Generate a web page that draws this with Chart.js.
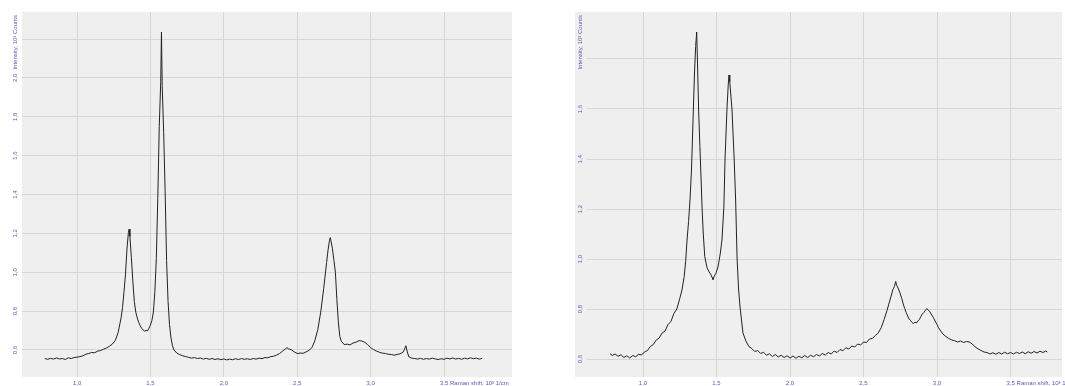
<!DOCTYPE html>
<html>
<head>
<meta charset="utf-8">
<script src="https://cdn.jsdelivr.net/npm/chart.js@4.4.1/dist/chart.umd.min.js"></script>
<style>
  html, body { margin: 0; padding: 0; background: #fff; }
  body { width: 1065px; height: 386px; position: relative; overflow: hidden; }
  .box { position: absolute; top: 0; height: 386px; }
  #leftBox { left: 0; width: 520px; }
  #rightBox { left: 530px; width: 535px; }
</style>
</head>
<body>
<div class="box" id="leftBox"><canvas id="leftChart"></canvas></div>
<div class="box" id="rightBox"><canvas id="rightChart"></canvas></div>
<script>
// Raman shift, 10^3 1/cm
var xTicks = [1.0, 1.5, 2.0, 2.5, 3.0, 3.5];
var leftYTicks = [0.6, 0.8, 1.0, 1.2, 1.4, 1.6, 1.8, 2.0, 2.2];
var rightYTicks = [0.6, 0.8, 1.0, 1.2, 1.4, 1.6, 1.8];

// left spectrum
var leftShift = [
  0.78, 0.80, 0.82, 0.84, 0.86, 0.88, 0.90, 0.92, 0.94, 0.96, 0.98, 1.00, 1.02, 1.04, 1.06, 1.08,
  1.10, 1.12, 1.14, 1.16, 1.18, 1.20, 1.22, 1.24, 1.26, 1.28, 1.30, 1.31, 1.32, 1.33, 1.34, 1.35,
  1.355, 1.36, 1.37, 1.38, 1.39, 1.40, 1.41, 1.42, 1.43, 1.44, 1.45, 1.46, 1.47, 1.48, 1.49, 1.50,
  1.51, 1.52, 1.53, 1.54, 1.55, 1.56, 1.57, 1.575, 1.58, 1.59, 1.60, 1.61, 1.62, 1.63, 1.64,
  1.65, 1.66, 1.68, 1.70, 1.72, 1.74, 1.76, 1.78, 1.80, 1.82, 1.84, 1.86, 1.88, 1.90, 1.92, 1.94,
  1.96, 1.98, 2.00, 2.02, 2.04, 2.06, 2.08, 2.10, 2.12, 2.14, 2.16, 2.18, 2.20, 2.22, 2.24, 2.26,
  2.28, 2.30, 2.32, 2.34, 2.36, 2.38, 2.40, 2.42, 2.43, 2.44, 2.46, 2.48, 2.50, 2.52, 2.54, 2.56,
  2.58, 2.60, 2.62, 2.64, 2.66, 2.68, 2.70, 2.71, 2.72, 2.725, 2.73, 2.74, 2.75, 2.76, 2.77, 2.78,
  2.79, 2.80, 2.82, 2.84, 2.86, 2.88, 2.90, 2.92, 2.94, 2.96, 2.98, 3.00, 3.02, 3.04, 3.06, 3.08,
  3.10, 3.12, 3.14, 3.16, 3.18, 3.20, 3.22, 3.23, 3.24, 3.25, 3.26, 3.28, 3.30, 3.32, 3.34, 3.36,
  3.38, 3.40, 3.42, 3.44, 3.46, 3.48, 3.50, 3.52, 3.54, 3.56, 3.58, 3.60, 3.62, 3.64, 3.66, 3.68,
  3.70, 3.72, 3.74, 3.76
];
var leftIntensity = [
  0.556, 0.552, 0.557, 0.553, 0.559, 0.554, 0.556, 0.551, 0.560, 0.556, 0.561, 0.563, 0.566, 0.570, 0.578, 0.582,
  0.587, 0.586, 0.594, 0.597, 0.604, 0.610, 0.619, 0.630, 0.648, 0.690, 0.765, 0.820, 0.900, 0.990, 1.120, 1.205,
  1.222, 1.185, 1.075, 0.955, 0.850, 0.795, 0.765, 0.742, 0.725, 0.712, 0.704, 0.696, 0.702, 0.698, 0.712, 0.728,
  0.752, 0.795, 0.900, 1.070, 1.380, 1.750, 1.980, 2.236, 1.960, 1.720, 1.420, 1.060, 0.850, 0.730, 0.662,
  0.622, 0.600, 0.584, 0.576, 0.570, 0.566, 0.562, 0.558, 0.561, 0.556, 0.559, 0.553, 0.557, 0.552, 0.556, 0.551,
  0.555, 0.550, 0.554, 0.549, 0.553, 0.550, 0.555, 0.551, 0.556, 0.552, 0.555, 0.551, 0.556, 0.553, 0.558, 0.555,
  0.561, 0.560, 0.566, 0.568, 0.574, 0.582, 0.594, 0.606, 0.612, 0.606, 0.601, 0.590, 0.582, 0.584, 0.583, 0.590,
  0.598, 0.612, 0.648, 0.705, 0.795, 0.915, 1.050, 1.115, 1.165, 1.178, 1.160, 1.120, 1.060, 1.000, 0.860, 0.745,
  0.670, 0.645, 0.628, 0.630, 0.626, 0.636, 0.640, 0.648, 0.646, 0.640, 0.627, 0.612, 0.602, 0.594, 0.588, 0.584,
  0.582, 0.578, 0.577, 0.573, 0.577, 0.580, 0.588, 0.602, 0.622, 0.590, 0.565, 0.558, 0.556, 0.553, 0.557, 0.552,
  0.556, 0.553, 0.558, 0.554, 0.551, 0.555, 0.552, 0.558, 0.554, 0.559, 0.553, 0.557, 0.552, 0.558, 0.554, 0.560,
  0.555, 0.558, 0.553, 0.557
];

// right spectrum
var rightShift = [
  0.775, 0.79, 0.81, 0.83, 0.85, 0.87, 0.89, 0.91, 0.93, 0.95, 0.97, 0.99, 1.01, 1.03, 1.05, 1.07,
  1.09, 1.11, 1.13, 1.15, 1.17, 1.19, 1.21, 1.23, 1.25, 1.265, 1.28, 1.29, 1.30, 1.31, 1.32, 1.33,
  1.34, 1.35, 1.358, 1.365, 1.37, 1.378, 1.387, 1.395, 1.402, 1.41, 1.42, 1.435, 1.45, 1.46,
  1.47, 1.476, 1.485, 1.495, 1.51, 1.525, 1.537, 1.55, 1.558, 1.571, 1.58, 1.585, 1.59, 1.605, 1.62, 1.63,
  1.64, 1.65, 1.66, 1.68, 1.70, 1.72, 1.74, 1.76, 1.78, 1.80, 1.82, 1.84, 1.86, 1.88, 1.90, 1.92,
  1.94, 1.96, 1.98, 2.00, 2.02, 2.04, 2.06, 2.08, 2.10, 2.12, 2.14, 2.16, 2.18, 2.20, 2.22, 2.24,
  2.26, 2.28, 2.30, 2.32, 2.34, 2.36, 2.38, 2.40, 2.42, 2.44, 2.46, 2.48, 2.50, 2.52, 2.54, 2.56,
  2.58, 2.60, 2.62, 2.64, 2.66, 2.68, 2.70, 2.71, 2.719, 2.725, 2.735, 2.748, 2.76, 2.77, 2.78, 2.79,
  2.80, 2.81, 2.82, 2.83, 2.84, 2.85, 2.86, 2.87, 2.88, 2.89, 2.90, 2.91, 2.92, 2.93, 2.94, 2.95,
  2.96, 2.975, 2.99, 3.00, 3.01, 3.02, 3.04, 3.06, 3.08, 3.10, 3.12, 3.14, 3.16, 3.18, 3.20, 3.22,
  3.24, 3.26, 3.28, 3.30, 3.32, 3.34, 3.36, 3.38, 3.40, 3.42, 3.44, 3.46, 3.48, 3.50, 3.52, 3.54,
  3.56, 3.58, 3.60, 3.62, 3.64, 3.66, 3.68, 3.70, 3.72, 3.74, 3.75
];
var rightIntensity = [
  0.622, 0.614, 0.620, 0.611, 0.617, 0.606, 0.613, 0.604, 0.614, 0.609, 0.619, 0.616, 0.628, 0.634, 0.650, 0.658,
  0.676, 0.684, 0.704, 0.712, 0.738, 0.750, 0.782, 0.800, 0.842, 0.876, 0.930, 0.990, 1.080, 1.150, 1.240, 1.360,
  1.550, 1.740, 1.850, 1.908, 1.800, 1.600, 1.450, 1.320, 1.200, 1.100, 1.010, 0.966, 0.948, 0.940,
  0.926, 0.918, 0.932, 0.942, 0.968, 1.020, 1.076, 1.208, 1.400, 1.600, 1.700, 1.736, 1.710, 1.600, 1.400, 1.236,
  1.000, 0.880, 0.808, 0.704, 0.672, 0.650, 0.642, 0.630, 0.634, 0.622, 0.627, 0.615, 0.621, 0.610, 0.618, 0.608,
  0.615, 0.606, 0.613, 0.604, 0.612, 0.603, 0.611, 0.605, 0.614, 0.606, 0.615, 0.609, 0.618, 0.612, 0.622, 0.616,
  0.626, 0.620, 0.632, 0.626, 0.638, 0.633, 0.645, 0.640, 0.652, 0.648, 0.660, 0.656, 0.668, 0.666, 0.680, 0.682,
  0.694, 0.704, 0.725, 0.758, 0.795, 0.836, 0.878, 0.890, 0.910, 0.895, 0.884, 0.864, 0.842, 0.820, 0.802, 0.786,
  0.772, 0.760, 0.754, 0.746, 0.742, 0.748, 0.744, 0.752, 0.758, 0.770, 0.780, 0.786, 0.794, 0.802, 0.796, 0.790,
  0.780, 0.766, 0.748, 0.738, 0.725, 0.716, 0.700, 0.690, 0.682, 0.676, 0.673, 0.668, 0.672, 0.666, 0.670, 0.668,
  0.660, 0.648, 0.640, 0.634, 0.628, 0.626, 0.620, 0.625, 0.619, 0.626, 0.620, 0.627, 0.621, 0.626, 0.620, 0.627,
  0.622, 0.628, 0.621, 0.629, 0.623, 0.630, 0.624, 0.631, 0.626, 0.632, 0.628
];

function fmt(v) {
    return v.toFixed(1).replace('.', ',');
}

// grey plot area, rotated y labels, x labels with the axis name after the last one
var axisText = {
    id: 'axisText',
    beforeDraw: function (chart, args, opts) {
        var ctx = chart.ctx, a = chart.chartArea;
        ctx.save();
        ctx.fillStyle = '#efefef';
        ctx.fillRect(a.left - opts.bgExtra, a.top, a.right - a.left + opts.bgExtra, a.bottom - a.top);
        ctx.restore();
    },
    afterDraw: function (chart, args, opts) {
        var ctx = chart.ctx, a = chart.chartArea;
        var x = chart.scales.x, y = chart.scales.y;
        ctx.save();
        ctx.font = '6px "Liberation Sans", Arial, sans-serif';
        ctx.fillStyle = '#5a5ab4';
        ctx.textBaseline = 'middle';

        y.ticks.forEach(function (t, i) {
            if (i === y.ticks.length - 1) return;
            ctx.save();
            ctx.translate(opts.labelX, y.getPixelForValue(t.value));
            ctx.rotate(-Math.PI / 2);
            ctx.textAlign = 'center';
            ctx.fillText(fmt(t.value), 0, 0);
            ctx.restore();
        });

        ctx.save();
        ctx.translate(opts.labelX, a.top + 3);
        ctx.rotate(-Math.PI / 2);
        ctx.textAlign = 'right';
        ctx.fillText('Intensity, 10\u00b3 Counts', 0, 0);
        ctx.restore();

        x.ticks.forEach(function (t, i) {
            var px = x.getPixelForValue(t.value);
            if (i === x.ticks.length - 1) {
                ctx.textAlign = 'left';
                ctx.fillText(fmt(t.value) + ' Raman shift, 10\u00b3 1/cm', px - 4, a.bottom + 6);
            } else {
                ctx.textAlign = 'center';
                ctx.fillText(fmt(t.value), px, a.bottom + 6);
            }
        });
        ctx.restore();
    }
};

function makeChart(id, shift, intensity, yTicks, lim, pad, textOpts) {
    var points = shift.map(function (s, i) { return { x: s, y: intensity[i] }; });
    return new Chart(document.getElementById(id).getContext('2d'), {
        type: 'line',
        data: {
            datasets: [{
                data: points,
                borderColor: '#222222',
                borderWidth: 1,
                pointRadius: 0,
                tension: 0
            }]
        },
        options: {
            responsive: true,
            maintainAspectRatio: false,
            animation: false,
            layout: { padding: pad },
            scales: {
                x: {
                    type: 'linear',
                    min: lim.xMin,
                    max: lim.xMax,
                    afterBuildTicks: function (s) { s.ticks = xTicks.map(function (v) { return { value: v }; }); },
                    ticks: { display: false },
                    grid: { color: '#d6d6d6', drawTicks: false },
                    border: { display: false }
                },
                y: {
                    min: lim.yMin,
                    max: lim.yMax,
                    afterBuildTicks: function (s) { s.ticks = yTicks.map(function (v) { return { value: v }; }); },
                    ticks: { display: false },
                    grid: { color: '#d6d6d6', drawTicks: false },
                    border: { display: false }
                }
            },
            plugins: {
                legend: { display: false },
                tooltip: { enabled: false },
                axisText: textOpts
            }
        },
        plugins: [axisText]
    });
}

var leftChart = makeChart('leftChart', leftShift, leftIntensity, leftYTicks,
    { xMin: 0.625, xMax: 3.963, yMin: 0.461, yMax: 2.339 },
    { left: 22, right: 8, top: 12, bottom: 9 },
    { labelX: 15, bgExtra: 0 });

var rightChart = makeChart('rightChart', rightShift, rightIntensity, rightYTicks,
    { xMin: 0.619, xMax: 3.85, yMin: 0.528, yMax: 1.988 },
    { left: 57, right: 3, top: 12, bottom: 9 },
    { labelX: 50, bgExtra: 12 });
</script>
</body>
</html>
